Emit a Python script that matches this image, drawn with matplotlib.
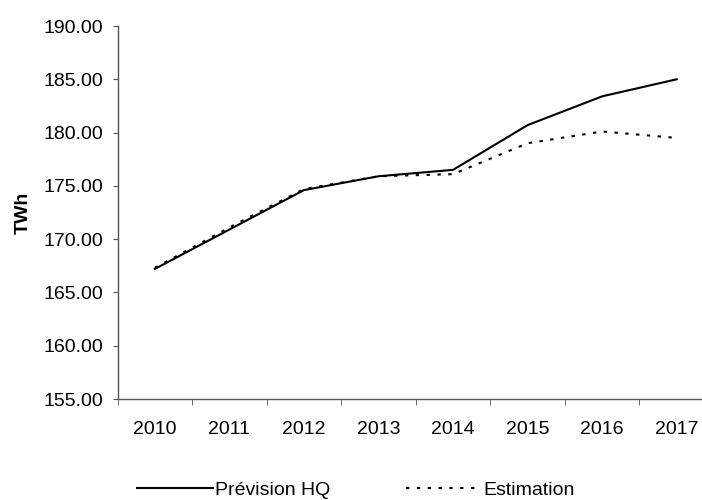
import matplotlib
matplotlib.use("Agg")
import matplotlib.pyplot as plt
import numpy as np

years = ["2010", "2011", "2012", "2013", "2014", "2015", "2016", "2017"]
prevision_hq = [167.2, 170.9, 174.6, 175.9, 176.5, 180.7, 183.4, 185.0]
estimation = [167.3, 171.1, 174.7, 175.9, 176.1, 179.0, 180.1, 179.5]
y_ticks = [155, 160, 165, 170, 175, 180, 185, 190]

plt.rcParams['font.family'] = ['Liberation Sans', 'DejaVu Sans']

fig = plt.figure(figsize=(7.02, 5.0), dpi=100)
ax = fig.add_axes([117.5 / 702, 101 / 500, 596.5 / 702, 373 / 500])

x = np.arange(len(years))
l1, = ax.plot(x, prevision_hq, color='black', lw=1.5, label='Prévision HQ')
l2, = ax.plot(x, estimation, color='black', lw=1.5, linestyle=(0, (1.6, 3.6)), label='Estimation')

ax.set_xlim(-0.5, len(years) - 0.5)
ax.set_ylim(155, 190)
ax.set_yticks(y_ticks)
ax.set_yticklabels([f"{v:.2f}" for v in y_ticks], fontsize=14)
ax.set_xticks(x)
ax.set_xticklabels(years, fontsize=14)
ax.set_xticks(np.arange(-0.5, len(years), 1.0), minor=True)
ax.tick_params(axis='x', which='major', length=0, pad=16)
ax.tick_params(axis='x', which='minor', length=4, direction='out', color='#555555')
ax.tick_params(axis='y', length=3.5, direction='out', color='#555555', pad=7)

for s in ['top', 'right']:
    ax.spines[s].set_visible(False)
for s in ['left', 'bottom']:
    ax.spines[s].set_color('#555555')
    ax.spines[s].set_linewidth(1.0)

ax.set_ylabel('TWh', fontsize=14, fontweight='bold', labelpad=8)

fig.legend(handles=[l1, l2], loc='center', bbox_to_anchor=(356 / 702, 1 - 490 / 500),
           ncol=2, frameon=False, fontsize=14, handlelength=3.9, handletextpad=0.1,
           columnspacing=3.9)

fig.savefig('out.png', dpi=100)
